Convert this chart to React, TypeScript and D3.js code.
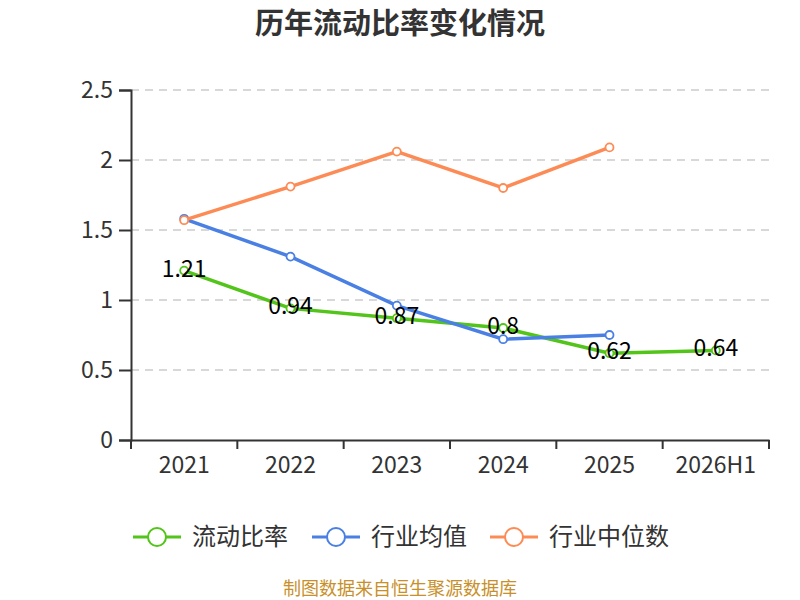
import React, { useEffect, useRef } from "react";
import * as d3 from "d3";

const categories = ["2021", "2022", "2023", "2024", "2025", "2026H1"];
const currentRatio = [1.21, 0.94, 0.87, 0.8, 0.62, 0.64];
const industryMean = [1.58, 1.31, 0.96, 0.72, 0.75];
const industryMedian = [1.57, 1.81, 2.06, 1.8, 2.09];
const yTicks = [0, 0.5, 1, 1.5, 2, 2.5];

interface Series {
  name: string;
  values: number[];
  color: string;
  labels: boolean;
}

const series: Series[] = [
  { name: "流动比率", values: currentRatio, color: "#52c41a", labels: true },
  { name: "行业均值", values: industryMean, color: "#4a80e4", labels: false },
  { name: "行业中位数", values: industryMedian, color: "#fd8b55", labels: false },
];

const FONT = "'Noto Sans CJK SC', 'Noto Sans', sans-serif";

const App: React.FC = () => {
  const svgRef = useRef<SVGSVGElement | null>(null);

  useEffect(() => {
    if (!svgRef.current) return;
    const width = 800;
    const height = 600;
    const margin = { top: 90, right: 31, bottom: 160, left: 131 };

    const svg = d3.select(svgRef.current).attr("width", width).attr("height", height);
    svg.selectAll("*").remove();

    // Title
    svg.append("text")
      .attr("x", width / 2)
      .attr("y", 34)
      .attr("text-anchor", "middle")
      .style("font-family", FONT)
      .style("font-size", "29px")
      .style("font-weight", "bold")
      .style("fill", "#333")
      .text("历年流动比率变化情况");

    const x = d3.scaleBand<string>()
      .domain(categories)
      .range([margin.left, width - margin.right]);
    const y = d3.scaleLinear()
      .domain([0, 2.5])
      .range([height - margin.bottom, margin.top]);

    // Grid lines
    svg.append("g")
      .selectAll("line")
      .data(yTicks.filter((t) => t > 0))
      .enter()
      .append("line")
      .attr("x1", margin.left)
      .attr("x2", width - margin.right)
      .attr("y1", (d) => y(d))
      .attr("y2", (d) => y(d))
      .attr("stroke", "#ccc")
      .attr("stroke-width", 1.5)
      .attr("stroke-dasharray", "8,6");

    // Y axis
    const yAxis = svg.append("g")
      .attr("transform", `translate(${margin.left},0)`)
      .call(d3.axisLeft(y).tickValues(yTicks).tickSize(12).tickPadding(6).tickFormat((d) => `${d}`));
    yAxis.select(".domain").attr("stroke", "#333").attr("stroke-width", 2);
    yAxis.selectAll(".tick line").attr("stroke", "#333").attr("stroke-width", 2);
    yAxis.selectAll(".tick text")
      .style("font-family", FONT)
      .style("font-size", "23px")
      .style("fill", "#333");

    // X axis
    const xAxis = svg.append("g")
      .attr("transform", `translate(0,${height - margin.bottom})`)
      .call(d3.axisBottom(x).tickSize(0).tickPadding(17));
    xAxis.select(".domain").attr("stroke", "#333").attr("stroke-width", 2);
    xAxis.selectAll(".tick text")
      .style("font-family", FONT)
      .style("font-size", "23px")
      .style("fill", "#333");
    // Boundary ticks between bands
    xAxis.selectAll(".band-tick")
      .data([...categories.map((c) => x(c) as number), width - margin.right])
      .enter()
      .append("line")
      .attr("x1", (d) => d)
      .attr("x2", (d) => d)
      .attr("y1", 0)
      .attr("y2", 9)
      .attr("stroke", "#333")
      .attr("stroke-width", 2);

    const cx = (i: number) => (x(categories[i]) as number) + x.bandwidth() / 2;

    const line = d3.line<number>()
      .x((_, i) => cx(i))
      .y((d) => y(d));

    series.forEach((s) => {
      const g = svg.append("g");
      g.append("path")
        .datum(s.values)
        .attr("d", line)
        .attr("fill", "none")
        .attr("stroke", s.color)
        .attr("stroke-width", 3.5);
      g.selectAll("circle")
        .data(s.values)
        .enter()
        .append("circle")
        .attr("cx", (_, i) => cx(i))
        .attr("cy", (d) => y(d))
        .attr("r", 4)
        .attr("fill", "#fff")
        .attr("stroke", s.color)
        .attr("stroke-width", 1.8);
    });

    // Data labels for 流动比率
    series.filter((s) => s.labels).forEach((s) => {
      svg.append("g")
        .selectAll("text")
        .data(s.values)
        .enter()
        .append("text")
        .attr("x", (_, i) => cx(i))
        .attr("y", (d) => y(d) + 6)
        .attr("text-anchor", "middle")
        .style("font-family", FONT)
        .style("font-size", "23px")
        .style("fill", "#000")
        .text((d) => `${d}`);
    });

    // Legend
    const legendX = [133, 312, 490];
    const legendY = 537;
    const legend = svg.append("g");
    series.forEach((s, i) => {
      const lg = legend.append("g").attr("transform", `translate(${legendX[i]},${legendY})`);
      lg.append("line")
        .attr("x1", 0)
        .attr("x2", 48)
        .attr("y1", 0)
        .attr("y2", 0)
        .attr("stroke", s.color)
        .attr("stroke-width", 3);
      lg.append("circle")
        .attr("cx", 24)
        .attr("cy", 0)
        .attr("r", 9)
        .attr("fill", "#fff")
        .attr("stroke", s.color)
        .attr("stroke-width", 2);
      lg.append("text")
        .attr("x", 59)
        .attr("y", 8)
        .style("font-family", FONT)
        .style("font-size", "24px")
        .style("fill", "#333")
        .text(s.name);
    });

    // Footer
    svg.append("text")
      .attr("x", width / 2)
      .attr("y", 595)
      .attr("text-anchor", "middle")
      .style("font-family", FONT)
      .style("font-size", "18px")
      .style("fill", "#c8902a")
      .text("制图数据来自恒生聚源数据库");
  }, []);

  return (
    <div style={{ position: "absolute", left: 0, top: 0, width: 800, height: 600 }}>
      <svg ref={svgRef} style={{ display: "block", overflow: "visible" }} />
    </div>
  );
};

export default App;
